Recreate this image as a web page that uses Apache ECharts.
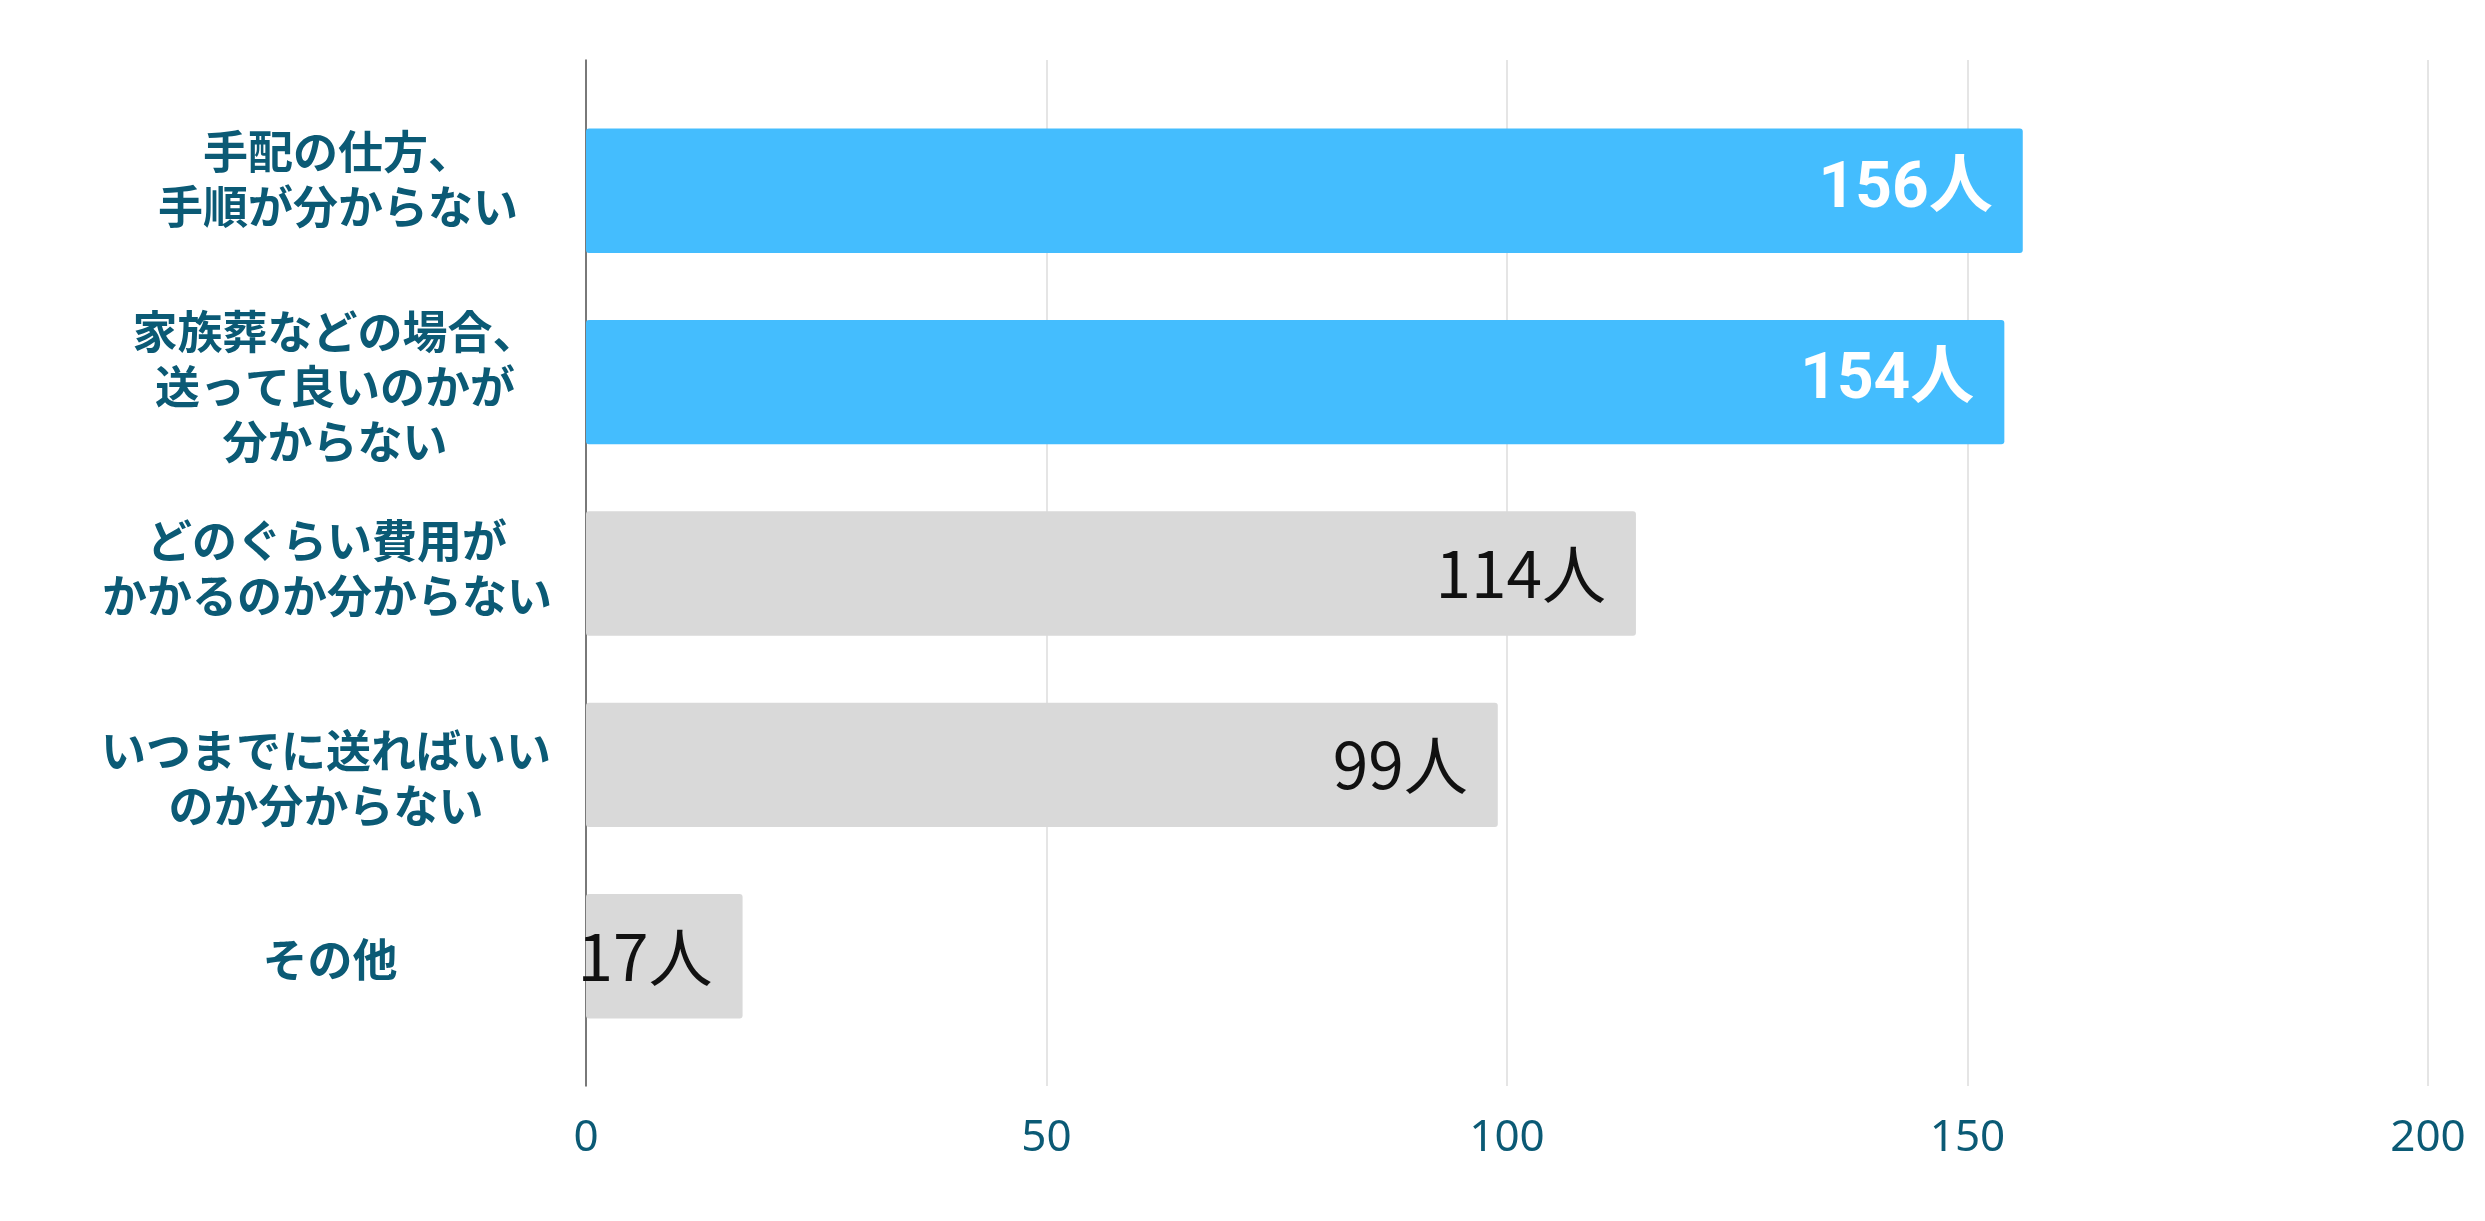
<!DOCTYPE html>
<html>
<head>
<meta charset="utf-8">
<script src="https://cdn.jsdelivr.net/npm/echarts@6/dist/echarts.min.js"></script>
<style>
html,body{margin:0;padding:0;background:#fff;}
#chart{width:2485px;height:1221px;}
</style>
</head>
<body>
<div id="chart"></div>
<script>
const categories = [
  '手配の仕方、\n手順が分からない',
  '家族葬などの場合、\n送って良いのかが\n分からない',
  'どのぐらい費用が\nかかるのか分からない',
  'いつまでに送ればいい\nのか分からない',
  'その他'
];
const values = [156, 154, 114, 99, 17];
const unit = '人';
const axisMin = 0, axisMax = 200, axisInterval = 50;

// layout: small per-label nudges [dx, dy] in px (reference labels are not perfectly centred)
const labelNudges = [[11, -11], [8, 5], [0, -5], [-1, 14], [3, 4]];
const LINE_H = 55;

const highlightCount = 2;
const BLUE = '#44bdfe', GREY = '#d9d9d9', TEAL = '#0b5a75';
const CAT_FONT = { color: TEAL, fontSize: 45, fontWeight: 'bold', fontFamily: '"Noto Sans CJK JP", sans-serif' };

const rich = {};
categories.forEach((c, i) => {
  const lines = c.split('\n');
  const [dx, dy] = labelNudges[i];
  lines.forEach((_, j) => {
    const top = (j === 0 && dy > 0) ? 2 * dy : 0;
    const bottom = (j === lines.length - 1 && dy < 0) ? -2 * dy : 0;
    const left = dx > 0 ? 2 * dx : 0;
    const right = dx < 0 ? -2 * dx : 0;
    rich['c' + i + '_' + j] = Object.assign({}, CAT_FONT, {
      height: LINE_H, lineHeight: LINE_H + top + bottom,
      padding: [top, right, bottom, left]
    });
  });
});

const seriesData = values.map((v, i) => ({
  value: v,
  label: i < highlightCount
    ? { color: '#ffffff', fontWeight: 'bold', fontSize: 64, fontFamily: 'Roboto, "Noto Sans CJK JP", sans-serif' }
    : { color: '#111111', fontWeight: 'normal', fontSize: 64, fontFamily: '"Noto Sans CJK JP", "Noto Sans", sans-serif' }
}));

const chart = echarts.init(document.getElementById('chart'));
chart.setOption({
  backgroundColor: '#ffffff',
  animation: false,
  grid: [
    { left: 586, right: 57, top: 95, bottom: 169 },   // bars
    { left: 586, right: 57, top: 60, bottom: 135 }    // frame: axis line, split lines, tick labels
  ],
  xAxis: [
    {
      gridIndex: 0, type: 'value', min: axisMin, max: axisMax, interval: axisInterval,
      axisLine: { show: false }, axisTick: { show: false },
      splitLine: { show: false }, axisLabel: { show: false }
    },
    {
      gridIndex: 1, type: 'value', min: axisMin, max: axisMax, interval: axisInterval,
      axisLine: { show: false }, axisTick: { show: false },
      splitLine: { show: true, lineStyle: { color: '#dcdcdc', width: 1.5 } },
      axisLabel: { color: TEAL, fontSize: 44, fontFamily: 'Noto Sans', margin: 30 }
    }
  ],
  yAxis: [
    {
      gridIndex: 0, type: 'category', data: categories, inverse: true,
      axisLine: { show: false }, axisTick: { show: false },
      axisLabel: Object.assign({}, CAT_FONT, {
        lineHeight: LINE_H,
        align: 'center', margin: 259,
        formatter: (val, idx) => val.split('\n').map((l, j) => '{c' + idx + '_' + j + '|' + l + '}').join('\n'),
        rich: rich
      })
    },
    {
      gridIndex: 1, type: 'value', min: 0, max: 1,
      axisLine: { show: true, lineStyle: { color: '#555555', width: 1.5 } },
      axisTick: { show: false }, axisLabel: { show: false }, splitLine: { show: false }
    }
  ],
  series: [{
    type: 'bar',
    xAxisIndex: 0, yAxisIndex: 0,
    data: seriesData,
    barCategoryGap: '35%',
    itemStyle: {
      borderRadius: 3,
      color: p => p.dataIndex < highlightCount ? BLUE : GREY
    },
    label: {
      show: true, position: 'insideRight', distance: 30,
      formatter: p => p.value + unit
    }
  }]
});
</script>
</body>
</html>
